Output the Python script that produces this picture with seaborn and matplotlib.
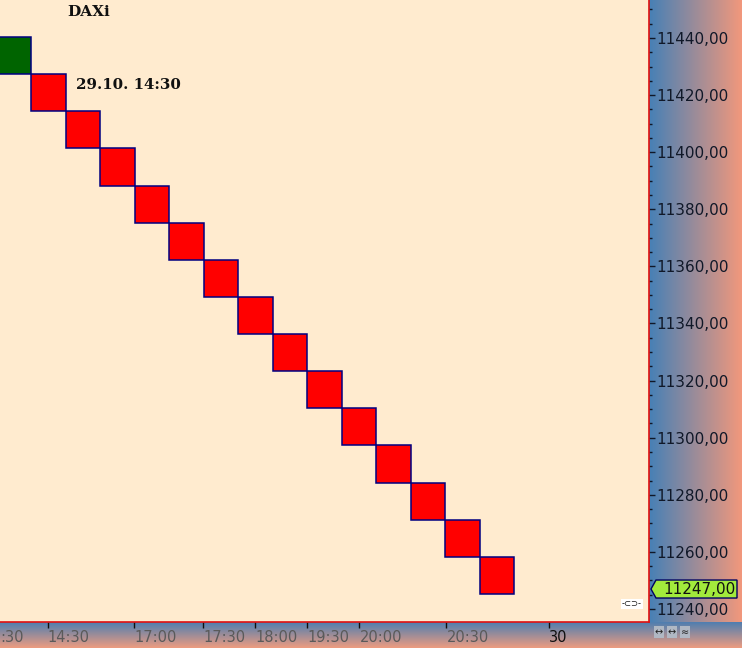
import numpy as np
import matplotlib
matplotlib.use("Agg")
import matplotlib.pyplot as plt
import seaborn as sns
from matplotlib.ticker import MultipleLocator, FixedLocator, FuncFormatter
from matplotlib.patches import Polygon

# ---- data ----
box_pos = [0, 1, 2, 3, 4, 5, 6, 7, 8, 9, 10, 11, 12, 13, 14]
box_high = [11440.3, 11427.3, 11414.3, 11401.3, 11388.3, 11375.3, 11362.3, 11349.3,
            11336.3, 11323.3, 11310.3, 11297.3, 11284.3, 11271.3, 11258.3]
box_low = [11427.3, 11414.3, 11401.3, 11388.3, 11375.3, 11362.3, 11349.3, 11336.3,
           11323.3, 11310.3, 11297.3, 11284.3, 11271.3, 11258.3, 11245.3]
box_dir = ["up", "down", "down", "down", "down", "down", "down", "down",
           "down", "down", "down", "down", "down", "down", "down"]
x_tick_pos = [1.48, 3.99, 5.99, 7.50, 9.01, 10.52, 13.04, 16.0]
x_tick_labels = ["14:30", "17:00", "17:30", "18:00", "19:30", "20:00", "20:30", "30"]
first_clipped_label = ":30"
y_ticks = [11240, 11260, 11280, 11300, 11320, 11340, 11360, 11380, 11400, 11420, 11440]
last_price = 11247.0
title = "DAXi"
box_label = "29.10. 14:30"

sns.set_style("white")
plt.rcParams['font.family'] = ['DejaVu Sans']

W, H = 742, 648
fig = plt.figure(figsize=(W / 100, H / 100), dpi=100)

# ---- background gradients ----
bg = fig.add_axes([0, 0, 1, 1], zorder=0)
bg.axis('off')

def hgrad(c1, c2, n=256):
    c1 = np.array(c1) / 255.0
    c2 = np.array(c2) / 255.0
    t = np.linspace(0, 1, n)[None, :, None]
    return c1 * (1 - t) + c2 * t

def vgrad(c1, c2, n=256):
    return np.transpose(hgrad(c1, c2, n), (1, 0, 2))

bg.imshow(hgrad((70, 128, 182), (242, 152, 124)), extent=(649, W, 622, 0),
          aspect='auto', origin='upper', interpolation='bilinear')
bg.imshow(vgrad((78, 126, 176), (238, 156, 128)), extent=(0, W, H, 622),
          aspect='auto', origin='upper', interpolation='bilinear')
bg.set_xlim(0, W)
bg.set_ylim(H, 0)

# ---- main axes ----
ax = fig.add_axes([0, 26 / H, 649 / W, 622 / H], zorder=2)
ax.set_facecolor('#FFEBCF')

colors = ['#006400' if d == "up" else '#FF0000' for d in box_dir]
heights = [h - l for h, l in zip(box_high, box_low)]
ax.bar(box_pos, heights, bottom=box_low, width=1.0, align='edge',
       color=colors, edgecolor='#000080', linewidth=1.1, zorder=3)

for s in ['top', 'left']:
    ax.spines[s].set_visible(False)
for s in ['right', 'bottom']:
    ax.spines[s].set_color('#E01010')
    ax.spines[s].set_linewidth(1.2)

# y axis on right
ax.yaxis.tick_right()
ax.yaxis.set_major_locator(FixedLocator(y_ticks))
ax.yaxis.set_minor_locator(MultipleLocator(5))
ax.yaxis.set_major_formatter(FuncFormatter(lambda v, p: f"{v:.2f}".replace('.', ',')))
ax.tick_params(axis='y', which='major', direction='out', length=4, width=1,
               colors='#101828', labelsize=11, pad=1, right=True, left=False)
ax.tick_params(axis='y', which='minor', direction='out', length=2.5, width=1,
               colors='#101828', right=True, left=False)

# x axis
ax.set_xticks(x_tick_pos)
ax.set_xticklabels(x_tick_labels)
ax.tick_params(axis='x', which='major', direction='out', length=4, width=1,
               colors='#101010', labelsize=10.5, pad=2, bottom=True)
for i, lbl in enumerate(ax.get_xticklabels()):
    lbl.set_horizontalalignment('left')
    lbl.set_color('#101010' if i == len(x_tick_labels) - 1 else '#5a5a5a')
ax.set_xlabel('')
ax.set_ylabel('')
ax.grid(False)

ax.set_xlim(0.101, 0.101 + 649 / 34.5)
ax.set_ylim(11235.45, 11453.3)

# first x label at the left edge
fig.text(0.5 / W, 1 - 637 / H, first_clipped_label, ha='left', va='center',
         fontsize=10.5, color='#5a5a5a', zorder=5)

# texts
ax.text(89 / 649, 1 - 12 / 622, title, transform=ax.transAxes, ha='center', va='center',
        fontsize=11, fontweight='bold', family='DejaVu Serif', color='#101010')
ax.text(2.30, 11423.6, box_label, ha='left', va='center', fontsize=10.8,
        fontweight='bold', family='DejaVu Serif', color='#101010', zorder=4)

# last price marker (arrow-shaped label)
tr = ax.get_yaxis_transform()
dy = 9 / 2.855
marker = Polygon([(651 / 649, last_price), (656 / 649, last_price + dy),
                  (737 / 649, last_price + dy), (737 / 649, last_price - dy),
                  (656 / 649, last_price - dy)], closed=True, transform=tr,
                 facecolor='#A2EA3C', edgecolor='#000060', linewidth=1,
                 clip_on=False, zorder=5)
ax.add_patch(marker)
ax.text(663 / 649, last_price, f"{last_price:.2f}".replace('.', ','), transform=tr,
        ha='left', va='center', fontsize=11, color='#101010', clip_on=False, zorder=6)

# small connector icon
ax.text(632 / 649, 1 - 604 / 622, "-⊂⊃-", transform=ax.transAxes, ha='center',
        va='center', fontsize=6, color='#101010',
        bbox=dict(boxstyle='square,pad=0.1', facecolor='white', edgecolor='none'))

# bottom-right tool icons
for xp, sym in [(659, "↔"), (672, "↔"), (685, "≈")]:
    fig.text(xp / W, 1 - 632 / H, sym, ha='center', va='center', fontsize=7,
             color='#202020', zorder=5,
             bbox=dict(boxstyle='square,pad=0.1', facecolor='#B0B8C4', edgecolor='none'))

fig.savefig("out.png", dpi=100)
